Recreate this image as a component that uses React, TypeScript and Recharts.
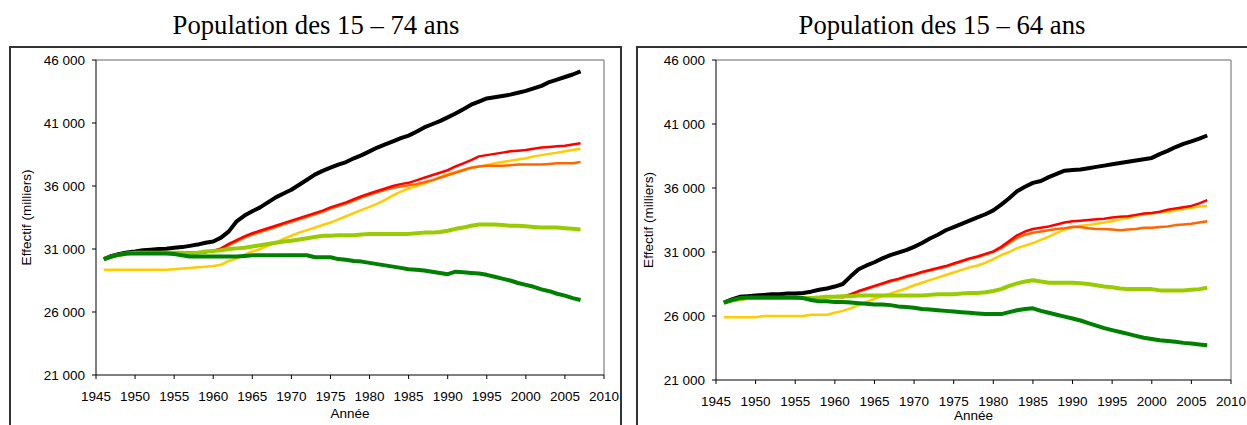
import { LineChart, Line, XAxis, YAxis, ReferenceLine } from 'recharts';

// years 1946 – 2007
const years = [
  1946, 1947, 1948, 1949, 1950, 1951, 1952, 1953, 1954, 1955,
  1956, 1957, 1958, 1959, 1960, 1961, 1962, 1963, 1964, 1965,
  1966, 1967, 1968, 1969, 1970, 1971, 1972, 1973, 1974, 1975,
  1976, 1977, 1978, 1979, 1980, 1981, 1982, 1983, 1984, 1985,
  1986, 1987, 1988, 1989, 1990, 1991, 1992, 1993, 1994, 1995,
  1996, 1997, 1998, 1999, 2000, 2001, 2002, 2003, 2004, 2005,
  2006, 2007,
];

const xTicks = [1945, 1950, 1955, 1960, 1965, 1970, 1975, 1980, 1985, 1990, 1995, 2000, 2005, 2010];
const yTicks = [21000, 26000, 31000, 36000, 41000, 46000];

// Population des 15 – 74 ans (milliers)
const black74 = [
  30200, 30450, 30600, 30720, 30800, 30900, 30950, 31000, 31020, 31100,
  31150, 31250, 31350, 31500, 31600, 31900, 32400, 33200, 33650, 34000,
  34300, 34700, 35100, 35400, 35700, 36100, 36500, 36900, 37200, 37450,
  37700, 37900, 38200, 38450, 38750, 39050, 39300, 39550, 39800, 40000,
  40300, 40650, 40900, 41150, 41450, 41750, 42100, 42450, 42700, 42950,
  43050, 43150, 43250, 43400, 43550, 43750, 43950, 44250, 44450, 44650,
  44850, 45100,
];
const red74 = [
  30200, 30400, 30550, 30650, 30700, 30750, 30750, 30750, 30750, 30750,
  30750, 30700, 30700, 30750, 30850, 31050, 31400, 31700, 32000, 32250,
  32450, 32650, 32850, 33050, 33250, 33450, 33650, 33850, 34050, 34300,
  34500, 34700, 34950, 35200, 35400, 35600, 35800, 36000, 36150, 36250,
  36450, 36650, 36850, 37050, 37250, 37550, 37800, 38050, 38350, 38450,
  38550, 38650, 38750, 38800, 38850, 38950, 39050, 39100, 39150, 39200,
  39300, 39400,
];
const orange74 = [
  30200, 30400, 30550, 30650, 30700, 30750, 30750, 30750, 30750, 30750,
  30750, 30700, 30700, 30750, 30850, 31000, 31300, 31600, 31900, 32150,
  32350, 32550, 32750, 32950, 33150, 33350, 33550, 33750, 33950, 34200,
  34400, 34600, 34850, 35100, 35300, 35500, 35700, 35850, 35950, 36050,
  36150, 36300, 36450, 36650, 36850, 37050, 37250, 37450, 37550, 37600,
  37600, 37600, 37650, 37700, 37700, 37700, 37700, 37750, 37800, 37800,
  37800, 37900,
];
const yellow74 = [
  29350, 29350, 29350, 29350, 29350, 29350, 29350, 29350, 29350, 29400,
  29450, 29500, 29550, 29600, 29650, 29750, 30050, 30250, 30550, 30800,
  31000, 31250, 31500, 31800, 32050, 32300, 32500, 32700, 32900, 33100,
  33350, 33600, 33850, 34100, 34350, 34600, 34900, 35250, 35550, 35800,
  36000, 36200, 36450, 36700, 36950, 37100, 37300, 37450, 37550, 37650,
  37800, 37900, 38000, 38100, 38200, 38350, 38450, 38550, 38650, 38750,
  38850, 38950,
];
const lightGreen74 = [
  30200, 30400, 30550, 30650, 30700, 30700, 30700, 30700, 30700, 30700,
  30700, 30650, 30700, 30800, 30850, 30900, 31000, 31050, 31100, 31200,
  31300, 31400, 31500, 31600, 31650, 31750, 31850, 31950, 32050, 32050,
  32100, 32100, 32100, 32150, 32200, 32200, 32200, 32200, 32200, 32200,
  32250, 32300, 32300, 32350, 32450, 32600, 32700, 32850, 32950, 32950,
  32950, 32900, 32850, 32850, 32800, 32750, 32700, 32700, 32700, 32650,
  32600, 32550,
];
const darkGreen74 = [
  30200, 30400, 30550, 30650, 30650, 30650, 30650, 30650, 30650, 30600,
  30500, 30400, 30400, 30400, 30400, 30400, 30400, 30400, 30450, 30500,
  30500, 30500, 30500, 30500, 30500, 30500, 30500, 30350, 30350, 30350,
  30200, 30150, 30050, 30000, 29900, 29800, 29700, 29600, 29500, 29400,
  29350, 29300, 29200, 29100, 29000, 29200, 29150, 29100, 29050, 28950,
  28800, 28650, 28500, 28300, 28150, 28000, 27800, 27650, 27450, 27300,
  27100, 26950,
];

// Population des 15 – 64 ans (milliers)
const black64 = [
  27050, 27300, 27500, 27550, 27600, 27650, 27700, 27700, 27750, 27750,
  27800, 27900, 28050, 28150, 28300, 28500, 29100, 29650, 29950, 30200,
  30500, 30750, 30950, 31150, 31400, 31700, 32050, 32350, 32700, 32950,
  33200, 33450, 33700, 33950, 34250, 34700, 35200, 35750, 36100, 36400,
  36550, 36850, 37100, 37350, 37400, 37450, 37550, 37650, 37750, 37850,
  37950, 38050, 38150, 38250, 38350, 38650, 38900, 39200, 39450, 39650,
  39850, 40100,
];
const red64 = [
  27050, 27200, 27300, 27400, 27400, 27400, 27400, 27400, 27400, 27400,
  27400, 27400, 27450, 27500, 27500, 27500, 27700, 27950, 28150, 28350,
  28550, 28750, 28900, 29100, 29250, 29450, 29600, 29750, 29900, 30100,
  30300, 30500, 30650, 30850, 31050, 31400, 31850, 32300, 32600, 32800,
  32900, 33000, 33150, 33300, 33400, 33450, 33500, 33550, 33600, 33700,
  33750, 33800, 33900, 34000, 34050, 34150, 34300, 34400, 34500, 34600,
  34800, 35050,
];
const orange64 = [
  27050, 27200, 27300, 27400, 27400, 27400, 27400, 27400, 27400, 27400,
  27400, 27400, 27450, 27500, 27500, 27450, 27650, 27900, 28100, 28300,
  28500, 28700, 28850, 29050, 29200, 29400, 29550, 29700, 29850, 30050,
  30250, 30450, 30600, 30800, 31000, 31300, 31700, 32100, 32350, 32500,
  32600, 32700, 32800, 32850, 32950, 32950, 32850, 32800, 32800, 32750,
  32700, 32750, 32800, 32900, 32900, 32950, 33000, 33100, 33150, 33200,
  33300, 33400,
];
const yellow64 = [
  25900, 25900, 25900, 25900, 25900, 26000, 26000, 26000, 26000, 26000,
  26000, 26100, 26100, 26100, 26250, 26400, 26600, 26850, 27100, 27350,
  27550, 27750, 27950, 28150, 28400, 28600, 28800, 29000, 29200, 29400,
  29600, 29800, 29950, 30150, 30450, 30750, 31000, 31300, 31500, 31700,
  31950, 32200, 32500, 32750, 32950, 33050, 33100, 33200, 33300, 33400,
  33550, 33650, 33800, 33950, 34000, 34100, 34150, 34250, 34350, 34450,
  34550, 34600,
];
const lightGreen64 = [
  27050, 27200, 27300, 27400, 27400, 27400, 27400, 27400, 27400, 27400,
  27400, 27400, 27450, 27500, 27500, 27550, 27550, 27600, 27600, 27600,
  27600, 27600, 27600, 27600, 27600, 27600, 27650, 27700, 27700, 27700,
  27750, 27800, 27800, 27850, 27950, 28100, 28350, 28550, 28700, 28800,
  28700, 28600, 28600, 28600, 28600, 28550, 28500, 28400, 28300, 28250,
  28150, 28100, 28100, 28100, 28100, 28000, 28000, 28000, 28000, 28050,
  28100, 28200,
];
const darkGreen64 = [
  27050, 27250, 27400, 27450, 27450, 27450, 27450, 27450, 27450, 27450,
  27400, 27250, 27150, 27150, 27100, 27100, 27050, 27000, 26950, 26900,
  26900, 26850, 26750, 26700, 26650, 26550, 26500, 26450, 26400, 26350,
  26300, 26250, 26200, 26150, 26150, 26150, 26300, 26450, 26550, 26600,
  26400, 26250, 26100, 25950, 25800, 25650, 25450, 25250, 25050, 24900,
  24750, 24600, 24450, 24300, 24200, 24100, 24050, 23980, 23900, 23850,
  23780, 23720,
];

const data74 = years.map((year, i) => ({
  year,
  yellow: yellow74[i],
  orange: orange74[i],
  red: red74[i],
  black: black74[i],
  lightGreen: lightGreen74[i],
  darkGreen: darkGreen74[i],
}));

const data64 = years.map((year, i) => ({
  year,
  yellow: yellow64[i],
  orange: orange64[i],
  red: red64[i],
  black: black64[i],
  lightGreen: lightGreen64[i],
  darkGreen: darkGreen64[i],
}));

// drawing order: first one ends up at the bottom
const series = [
  { key: 'yellow', color: '#FFCC00', width: 2.5 },
  { key: 'orange', color: '#FF6600', width: 2.5 },
  { key: 'red', color: '#FF0000', width: 2.5 },
  { key: 'black', color: '#000000', width: 4 },
  { key: 'lightGreen', color: '#99CC00', width: 4 },
  { key: 'darkGreen', color: '#008000', width: 4 },
];

const sans = '"Liberation Sans", Arial, sans-serif';
const tickStyle = { fill: '#000', fontSize: 13.5, fontFamily: sans };
const fmt = (v: number) => `${Math.floor(v / 1000)} ${String(v % 1000).padStart(3, '0')}`;

interface PanelProps {
  title: string;
  data: typeof data74;
  left: number;
  width: number;
  frameLeft: number;
  frameWidth: number;
  titleCenter: number;
  marginRight: number;
  yAxisWidth: number;
  xAxisHeight: number;
  yLabelOffset: number;
  xLabelOffset: number;
}

function Panel(p: PanelProps) {
  return (
    <>
      <div
        style={{
          position: 'absolute',
          left: p.frameLeft,
          top: 46,
          width: p.frameWidth,
          height: 420,
          border: '2px solid #333',
          boxSizing: 'border-box',
        }}
      />
      <div
        style={{
          position: 'absolute',
          left: p.titleCenter - 200,
          width: 400,
          top: 12,
          textAlign: 'center',
          fontFamily: '"Liberation Serif", "Times New Roman", serif',
          fontSize: 26.7,
          lineHeight: '26px',
          color: '#000',
        }}
      >
        {p.title}
      </div>
      <div style={{ position: 'absolute', left: p.left, top: 0 }}>
        <LineChart
          width={p.width}
          height={425}
          data={p.data}
          margin={{ top: 60, right: p.marginRight, bottom: 0, left: 6 }}
        >
          <XAxis
            dataKey="year"
            type="number"
            domain={[1945, 2010]}
            ticks={xTicks}
            interval={0}
            tickSize={4}
            tickMargin={12}
            stroke="#000"
            tick={tickStyle}
            height={p.xAxisHeight}
            label={{
              value: 'Année',
              position: 'insideBottom',
              offset: p.xLabelOffset,
              style: { fill: '#000', fontSize: 13.5, fontFamily: sans },
            }}
          />
          <YAxis
            domain={[21000, 46000]}
            ticks={yTicks}
            interval={0}
            tickSize={4}
            tickMargin={7}
            stroke="#000"
            tick={tickStyle}
            tickFormatter={fmt}
            width={p.yAxisWidth}
            label={{
              value: 'Effectif (milliers)',
              angle: -90,
              position: 'insideLeft',
              offset: p.yLabelOffset,
              style: { textAnchor: 'middle', fill: '#000', fontSize: 13.5, fontFamily: sans },
            }}
          />
          <ReferenceLine y={46000} stroke="#999" strokeWidth={1.5} />
          <ReferenceLine x={2010} stroke="#999" strokeWidth={1.5} />
          {series.map((s) => (
            <Line
              key={s.key}
              dataKey={s.key}
              type="linear"
              stroke={s.color}
              strokeWidth={s.width}
              strokeLinejoin="round"
              dot={false}
              activeDot={false}
              isAnimationActive={false}
            />
          ))}
        </LineChart>
      </div>
    </>
  );
}

export default function App() {
  return (
    <div
      style={{
        position: 'absolute',
        left: 0,
        top: 0,
        width: 1247,
        height: 425,
        overflow: 'hidden',
        background: '#fff',
      }}
    >
      <Panel
        title="Population des 15 – 74 ans"
        data={data74}
        left={0}
        width={625}
        frameLeft={9}
        frameWidth={613}
        titleCenter={316}
        marginRight={21}
        yAxisWidth={90}
        xAxisHeight={50}
        yLabelOffset={20}
        xLabelOffset={7}
      />
      <Panel
        title="Population des 15 – 64 ans"
        data={data64}
        left={625}
        width={622}
        frameLeft={636}
        frameWidth={700}
        titleCenter={942}
        marginRight={16}
        yAxisWidth={85}
        xAxisHeight={45}
        yLabelOffset={17}
        xLabelOffset={5}
      />
    </div>
  );
}
